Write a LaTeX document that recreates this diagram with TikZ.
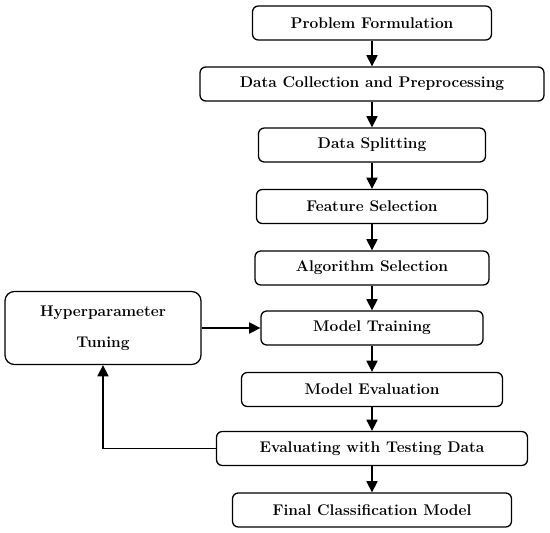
\documentclass[tikz,border=0pt]{standalone}
\usetikzlibrary{arrows.meta}
\begin{document}
\begin{tikzpicture}[x=0.03cm, y=-0.03cm, line width=1.1pt,
% common options for the steps:
stepbox/.style = {draw, rounded corners=5pt, align=center, minimum height=1.02cm,
            inner sep=0, font=\fontsize{13.2}{15}\selectfont\bfseries},
% common options for the arrows:
flow/.style = {-{Triangle[length=9.5pt,width=9.5pt]}}]
\useasboundingbox (0,0) rectangle (550,533);
\node[stepbox, minimum width=7.17cm] (S1) at (372,23) {Problem Formulation};
\node[stepbox, minimum width=10.32cm] (S2) at (372,84) {Data Collection and Preprocessing};
\node[stepbox, minimum width=6.81cm] (S3) at (372,145) {Data Splitting};
\node[stepbox, minimum width=6.93cm] (S4) at (372,206.5) {Feature Selection};
\node[stepbox, minimum width=7.02cm] (S5) at (372,268) {Algorithm Selection};
\node[stepbox, minimum width=6.66cm] (S6) at (372,328) {Model Training};
\node[stepbox, minimum width=7.83cm] (S7) at (372,389.5) {Model Evaluation};
\node[stepbox, minimum width=9.33cm] (S8) at (372,448.5) {Evaluating with Testing Data};
\node[stepbox, minimum width=8.37cm] (S9) at (372,510) {Final Classification Model};
\node[stepbox, minimum width=5.88cm, minimum height=2.19cm, rounded corners=8pt,
      font=\fontsize{13.2}{26.5}\selectfont\bfseries] (H) at (103,328) {Hyperparameter\\Tuning};
\draw[flow] (S1) -- (S2);
\draw[flow] (S2) -- (S3);
\draw[flow] (S3) -- (S4);
\draw[flow] (S4) -- (S5);
\draw[flow] (S5) -- (S6);
\draw[flow] (S6) -- (S7);
\draw[flow] (S7) -- (S8);
\draw[flow] (S8) -- (S9);
\draw[flow] (H.east) -- (S6.west);
\draw[flow] (S8.west) -| (H.south);
\end{tikzpicture}
\end{document}
